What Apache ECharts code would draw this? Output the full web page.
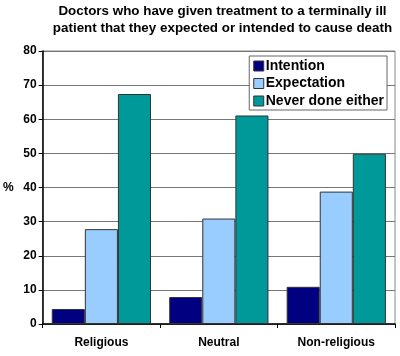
<!DOCTYPE html>
<html><head><meta charset="utf-8">
<script src="https://cdn.jsdelivr.net/npm/echarts@6/dist/echarts.min.js"></script>
<style>html,body{margin:0;padding:0;background:#fff}#c{width:400px;height:356px}</style>
</head><body><div id="c"></div>
<script>
const categories = ['Religious', 'Neutral', 'Non-religious'];
const intention = [4.4, 7.9, 10.9];
const expectation = [27.8, 30.9, 38.8];
const neverDone = [67.4, 61.1, 49.9];
const seriesNames = ['Intention', 'Expectation', 'Never done either'];
const titleText = 'Doctors who have given treatment to a terminally ill\npatient that they expected or intended to cause death';

const font = 'Arial, "Liberation Sans", sans-serif';
const chart = echarts.init(document.getElementById('c'), null, {renderer: 'canvas'});
const bar = (name, data, color) => ({
  name, type: 'bar', data, barGap: '0%', barCategoryGap: '15.5%',
  itemStyle: {color, borderColor: '#333', borderWidth: 1}
});
chart.setOption({
  animation: false,
  title: {
    text: titleText, left: 217.5, textAlign: 'center', top: -2,
    textStyle: {fontFamily: font, fontWeight: 'bold', fontSize: 13.4, lineHeight: 17, color: '#000'}
  },
  legend: {
    orient: 'vertical', right: 13, top: 56, itemGap: 3.5,
    itemWidth: 10, itemHeight: 10, padding: [3, 3, 2, 4],
    backgroundColor: '#fff', borderColor: '#666', borderWidth: 1, borderRadius: 0,
    icon: 'rect', itemStyle: {borderColor: '#333', borderWidth: 1},
    textStyle: {fontFamily: font, fontWeight: 'bold', fontSize: 14, color: '#000', padding: [0, 0, 0, -3]},
    data: seriesNames
  },
  grid: {left: 40, right: 5, top: 51, bottom: 32, containLabel: false, show: true, borderColor: '#888', borderWidth: 1},
  xAxis: {
    type: 'category', data: categories,
    axisLine: {lineStyle: {color: '#000', width: 1.5}},
    axisTick: {show: true, length: 4, lineStyle: {color: '#000'}},
    axisLabel: {fontFamily: font, fontWeight: 'bold', fontSize: 12, color: '#000', margin: 13}
  },
  yAxis: {
    type: 'value', min: 0, max: 80, interval: 10,
    name: '%', nameLocation: 'middle', nameRotate: 0, nameGap: 29,
    nameTextStyle: {fontFamily: font, fontWeight: 'bold', fontSize: 12, color: '#000'},
    axisLine: {show: true, lineStyle: {color: '#000', width: 1.5}},
    axisTick: {show: true, length: 4, lineStyle: {color: '#000'}},
    axisLabel: {fontFamily: font, fontWeight: 'bold', fontSize: 12, color: '#000', margin: 6},
    splitLine: {lineStyle: {color: '#777', width: 1}}
  },
  series: [
    bar(seriesNames[0], intention, '#000080'),
    bar(seriesNames[1], expectation, '#99CCFF'),
    bar(seriesNames[2], neverDone, '#009999')
  ]
});
</script></body></html>
